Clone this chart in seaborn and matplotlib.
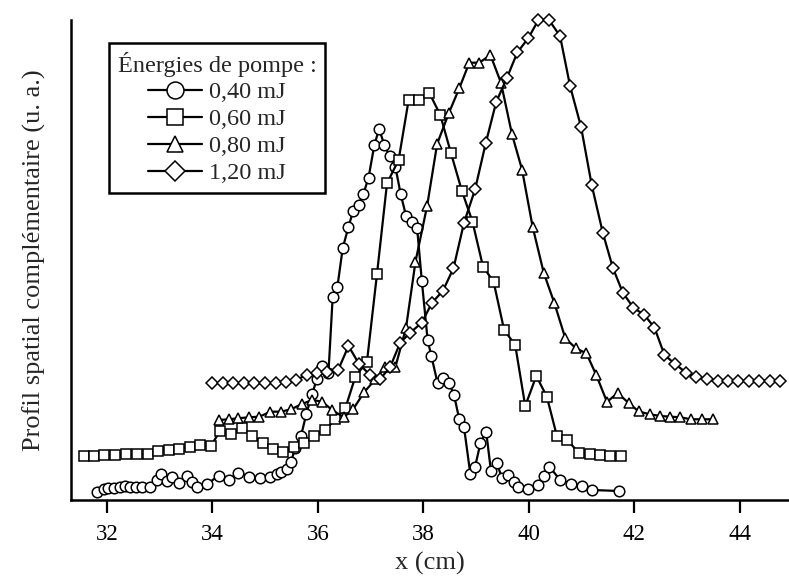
import matplotlib
matplotlib.use("Agg")
import matplotlib.pyplot as plt
import seaborn as sns

# x in cm, y in arbitrary units
x_040 = [31.81, 31.94, 32.03, 32.13, 32.24, 32.35, 32.44, 32.56, 32.66, 32.81,
         32.95, 33.03, 33.14, 33.24, 33.36, 33.52, 33.61, 33.71, 33.90, 34.12,
         34.31, 34.49, 34.70, 34.91, 35.10, 35.22, 35.30, 35.41, 35.49, 35.57,
         35.68, 35.78, 35.89, 35.98, 36.08, 36.20, 36.28, 36.37, 36.47, 36.58,
         36.67, 36.77, 36.86, 36.96, 37.07, 37.16, 37.26, 37.36, 37.47, 37.57,
         37.67, 37.78, 37.88, 37.97, 38.08, 38.15, 38.27, 38.38, 38.49, 38.58,
         38.68, 38.77, 38.89, 38.98, 39.08, 39.19, 39.28, 39.39, 39.49, 39.61,
         39.71, 39.80, 39.99, 40.18, 40.28, 40.39, 40.59, 40.80, 41.00, 41.19,
         41.70]
y_040 = [8.3, 10.7, 11.7, 12.3, 13.3, 14, 13.3, 12.7, 13.3, 13.3,
         20, 25.7, 19.3, 23.3, 16.7, 24.3, 18.3, 13.3, 16, 24.3,
         20, 27.3, 23.3, 22.3, 22.7, 26, 28.3, 30.7, 38.3, 51.7,
         64, 86, 105.7, 121, 133.5, 127, 202.7, 213.3, 251.7, 273.3,
         289.3, 295, 305.7, 322.3, 355, 371, 355, 344, 332.7, 305.7,
         284.3, 278.3, 272.3, 219, 160, 144, 116.7, 121.7, 116.7, 105,
         80.7, 72.7, 25.7, 33.3, 56.7, 68.3, 29, 37.3, 21.7, 25,
         18.3, 12.7, 10.7, 15, 24, 33.3, 20, 16, 14, 10,
         9]

x_060 = [31.56, 31.75, 31.95, 32.16, 32.37, 32.57, 32.77, 32.97, 33.17, 33.37,
         33.57, 33.77, 33.97, 34.15, 34.35, 34.56, 34.75, 34.95, 35.15, 35.34,
         35.54, 35.74, 35.93, 36.14, 36.33, 36.52, 36.71, 36.93, 37.12, 37.31,
         37.53, 37.72, 37.91, 38.11, 38.32, 38.52, 38.73, 38.93, 39.13, 39.33,
         39.53, 39.74, 39.93, 40.14, 40.34, 40.53, 40.73, 40.94, 41.15, 41.34,
         41.54, 41.74]
y_060 = [44, 44.3, 45, 45, 46, 46, 46, 49.3, 50, 50.7,
         53.3, 55, 54, 69.3, 66, 71.7, 64, 56.7, 50.7, 48.3,
         52.7, 56.7, 64.3, 70, 80.7, 91.7, 123.3, 138.3, 226, 316.7,
         340, 400, 400, 407.3, 385, 347.3, 309, 278.3, 233.3, 218.3,
         170, 155, 94, 124, 103.3, 64, 60, 47.3, 46, 45,
         44.3, 44.3]

x_080 = [34.12, 34.31, 34.49, 34.70, 34.89, 35.10, 35.30, 35.49, 35.70, 35.89,
         36.08, 36.27, 36.49, 36.67, 36.88, 37.09, 37.28, 37.47, 37.67, 37.85,
         38.07, 38.26, 38.48, 38.68, 38.87, 39.06, 39.27, 39.47, 39.68, 39.87,
         40.07, 40.28, 40.48, 40.69, 40.89, 41.09, 41.28, 41.48, 41.68, 41.89,
         42.08, 42.29, 42.49, 42.68, 42.87, 43.07, 43.28, 43.49]
y_080 = [80, 80.7, 81.7, 82.7, 83.3, 88.3, 88.3, 90.7, 96, 100,
         98.3, 90, 82.7, 91, 108, 120.7, 133.3, 133.3, 172, 238.3,
         294, 356, 386.7, 411.7, 437.3, 437.3, 445, 417.3, 365.5, 330.3,
         273.3, 227.3, 197.3, 161.7, 151.7, 146.7, 124.5, 98, 107, 97,
         88.5, 85.7, 84, 83.3, 82.7, 80.7, 80.7, 80.7]

x_120 = [33.99, 34.20, 34.39, 34.59, 34.79, 35.00, 35.20, 35.40, 35.59, 35.79,
         35.98, 36.18, 36.38, 36.58, 36.78, 36.99, 37.18, 37.37, 37.56, 37.75,
         37.97, 38.16, 38.37, 38.57, 38.77, 38.98, 39.18, 39.38, 39.58, 39.78,
         39.99, 40.18, 40.38, 40.59, 40.78, 40.99, 41.19, 41.40, 41.59, 41.78,
         41.98, 42.19, 42.38, 42.57, 42.77, 42.98, 43.17, 43.37, 43.58, 43.78,
         43.97, 44.18, 44.37, 44.57, 44.76]
y_120 = [116.7, 116.7, 116.7, 116.7, 116.7, 116.7, 117.3, 118.3, 120.3, 125,
         127, 128, 129.5, 154, 136, 125, 121, 133, 157.3, 167.3,
         177.3, 197, 209.3, 231.7, 277.3, 310.7, 356.5, 398, 421.7, 447.5,
         462, 480, 480, 464, 414, 372.7, 315, 267.3, 232.3, 207.3,
         192.3, 185, 172.3, 145, 136, 127.3, 122.7, 120.7, 119.3, 119.3,
         119.3, 119.3, 119.3, 119.3, 119.3]

labels = ["0,40 mJ", "0,60 mJ", "0,80 mJ", "1,20 mJ"]
markers = ["o", "s", "^", "D"]
xticks = [32, 34, 36, 38, 40, 42, 44]

sns.set_style("ticks")
plt.rcParams["font.family"] = ["Liberation Serif", "DejaVu Serif"]

fig = plt.figure(figsize=(7.89, 5.88), dpi=100)
ax = fig.add_axes([0.09, 0.1497, 0.91, 0.8163])

series = [(x_040, y_040), (x_060, y_060), (x_080, y_080), (x_120, y_120)]
for (xs, ys), lab, m in zip(series, labels, markers):
    ms = 6.4 if m == "D" else 7.6
    sns.lineplot(x=xs, y=ys, ax=ax, sort=False, estimator=None, color="black",
                 linewidth=1.6, marker=m, markersize=ms, markerfacecolor="white",
                 markeredgecolor="black", markeredgewidth=1.1, label=lab,
                 clip_on=False)

ax.set_xlim(31.32, 44.93)
ax.set_ylim(0, 480)
ax.set_xticks(xticks)
ax.set_xticklabels([str(t) for t in xticks], fontsize=16.5)
ax.set_yticks([])
ax.tick_params(axis="x", direction="out", length=9, width=1.6, pad=8, colors="black")
ax.set_xlabel("x (cm)", fontsize=19, labelpad=5)
ax.set_ylabel("Profil spatial complémentaire (u. a.)", fontsize=19, labelpad=18)
sns.despine(ax=ax, top=True, right=True)
for side in ["left", "bottom"]:
    ax.spines[side].set_linewidth(1.8)
    ax.spines[side].set_color("black")

leg = ax.legend(title="Énergies de pompe :", loc="upper left",
                bbox_to_anchor=(0.053, 0.952), borderaxespad=0,
                fontsize=17.5, title_fontsize=17.5, frameon=True, fancybox=False,
                edgecolor="black", framealpha=1, handlelength=2.2,
                handletextpad=0.3, labelspacing=0.2, markerscale=1.6,
                borderpad=0.35)
leg.get_frame().set_linewidth(1.8)

fig.savefig("out.png", dpi=100)
